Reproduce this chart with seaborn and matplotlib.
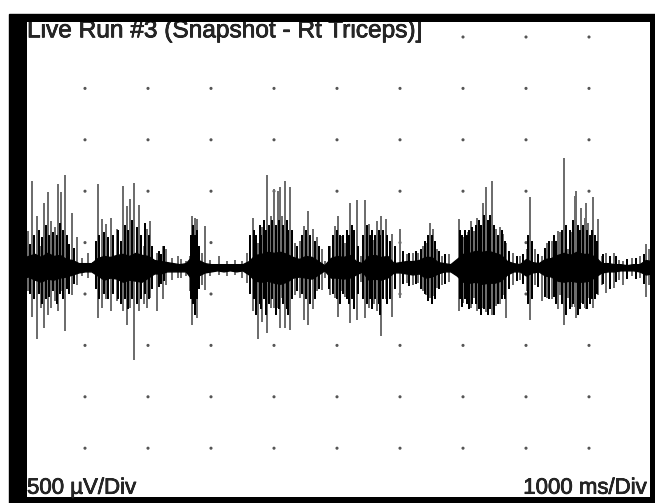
import matplotlib
matplotlib.use("Agg")
import matplotlib.pyplot as plt
import matplotlib.patheffects as pe
import numpy as np
import pandas as pd
import seaborn as sns
from matplotlib.patches import Rectangle

titulo = "Live Run #3 (Snapshot - Rt Triceps)]"
escala_y = "500 µV/Div"
escala_x = "1000 ms/Div"

# reticula de puntos: 1 division = 1 s (1000 ms) y 0.5 mV (500 µV)
div_t = [1, 2, 3, 4, 5, 6, 7, 8, 9]
div_mv = [-2.0, -1.5, -1.0, -0.5, 0.0, 0.5, 1.0, 1.5, 2.0]

# linea base de la señal respecto a la fila central de puntos (mV)
linea_base = -0.24

# picos altos de la señal EMG: instante (s), maximo y minimo (mV)
spike_t = [0.10, 0.154, 0.243, 0.297, 0.349, 0.408, 0.46, 0.524, 0.576, 0.619,
           0.683, 0.789, 0.878, 0.947, 1.05, 1.13, 1.20, 1.27, 1.34, 1.42,
           1.50, 1.60, 1.66, 1.71, 1.78, 1.86, 1.93, 1.98, 2.03,
           2.14, 2.24, 2.28, 2.38, 2.47, 2.53, 2.61, 2.67, 2.70, 2.75,
           2.78, 2.85, 2.90, 2.98, 3.12, 3.25, 3.38, 3.49, 3.57, 3.66,
           3.74, 3.81, 3.89, 3.95, 4.00,
           4.06, 4.10, 4.13, 4.17, 4.25, 4.33, 4.41, 4.47, 4.54, 4.62,
           4.68, 4.76, 4.81, 4.89, 4.97, 5.02, 5.07, 5.13, 5.21, 5.31,
           5.38, 5.44, 5.50, 5.58, 5.63, 5.70, 5.77, 5.88, 6.00,
           6.11, 6.21, 6.29, 6.37, 6.42, 6.47, 6.53, 6.58, 6.66, 6.78,
           6.85, 6.93, 7.00, 7.08, 7.12, 7.17, 7.23, 7.31, 7.37, 7.46,
           7.53, 7.59, 7.64, 7.69, 7.80, 7.90,
           8.01, 8.06, 8.14, 8.25, 8.34, 8.41, 8.50, 8.54, 8.60, 8.67,
           8.73, 8.78, 8.80, 8.87, 8.93, 8.95, 8.99, 9.07, 9.15, 9.20,
           9.27, 9.39, 9.47, 9.54, 9.68, 9.81, 9.90, 9.95]
spike_hi = [0.34, 0.83, 0.49, 0.20, 0.62, 0.72, 0.44, 0.38, 0.80, 0.72,
            0.89, 0.52, 0.28, 0.08, 0.13, 0.04, 0.80, 0.46, 0.41, 0.47,
            0.36, 0.78, 0.59, 0.65, 0.81, 0.60, 0.20, 0.36, 0.44,
            0.13, 0.20, 0.17, 0.08, 0.10, 0.07, 0.05, 0.10, 0.49, 0.47,
            0.46, 0.13, 0.39, 0.06, 0.10, 0.05, 0.06, 0.05, 0.13, 0.47,
            0.23, 0.38, 0.89, 0.49, 0.75,
            0.73, 0.77, 0.49, 0.83, 0.77, 0.23, 0.25, 0.39, 0.54, 0.36,
            0.28, 0.17, 0.05, 0.20, 0.39, 0.49, 0.29, 0.23, 0.62, 0.64,
            0.10, 0.64, 0.41, 0.26, 0.44, 0.49, 0.46, 0.31, 0.36,
            0.12, 0.13, 0.13, 0.20, 0.23, 0.42, 0.36, 0.17, 0.10, 0.12,
            0.04, 0.46, 0.28, 0.33, 0.44, 0.34, 0.47, 0.62, 0.77, 0.83,
            0.36, 0.38, 0.31, 0.23, 0.13, 0.10,
            0.17, 0.67, 0.17, 0.10, 0.23, 0.25, 0.34, 0.33, 1.05, 0.17,
            0.33, 0.68, 0.73, 0.57, 0.47, 0.62, 0.42, 0.67, 0.46, 0.10,
            0.13, 0.13, 0.06, 0.05, 0.08, 0.10, 0.22, 0.17]
spike_lo = [-0.22, -0.47, -0.69, -0.39, -0.58, -0.45, -0.39, -0.32, -0.42, -0.22,
            -0.61, -0.26, -0.16, -0.08, -0.09, -0.05, -0.48, -0.39, -0.30, -0.42,
            -0.32, -0.42, -0.55, -0.39, -0.89, -0.42, -0.35, -0.39, -0.29,
            -0.42, -0.30, -0.16, -0.11, -0.09, -0.09, -0.08, -0.22, -0.55, -0.39,
            -0.48, -0.16, -0.21, -0.08, -0.07, -0.08, -0.07, -0.09, -0.14, -0.42,
            -0.69, -0.52, -0.63, -0.39, -0.39,
            -0.39, -0.58, -0.29, -0.58, -0.60, -0.26, -0.29, -0.50, -0.55, -0.40,
            -0.22, -0.21, -0.09, -0.26, -0.29, -0.47, -0.22, -0.28, -0.53, -0.50,
            -0.13, -0.48, -0.39, -0.35, -0.42, -0.66, -0.30, -0.47, -0.29,
            -0.14, -0.16, -0.14, -0.22, -0.26, -0.29, -0.27, -0.19, -0.16, -0.13,
            -0.06, -0.42, -0.34, -0.22, -0.39, -0.29, -0.42, -0.39, -0.43, -0.45,
            -0.37, -0.35, -0.26, -0.48, -0.16, -0.11,
            -0.22, -0.50, -0.16, -0.32, -0.29, -0.30, -0.40, -0.26, -0.55, -0.29,
            -0.38, -0.38, -0.48, -0.34, -0.39, -0.40, -0.29, -0.39, -0.26, -0.16,
            -0.24, -0.19, -0.11, -0.16, -0.08, -0.09, -0.28, -0.16]

# picos medios dentro de cada rafaga: instante (s), maximo y minimo (mV)
medio_t = [0.07, 0.13, 0.19, 0.27, 0.32, 0.38, 0.43, 0.49, 0.55, 0.60, 0.65,
           0.72, 0.75, 0.83,
           1.17, 1.23, 1.30, 1.37, 1.45, 1.53, 1.57, 1.63, 1.69, 1.74, 1.82,
           1.89, 1.95, 2.01, 2.07, 2.18, 2.21, 2.26,
           2.69, 2.72, 2.74, 2.77, 2.81,
           3.62, 3.69, 3.71, 3.77, 3.79, 3.84, 3.87, 3.92, 3.97, 4.03, 4.08,
           4.15, 4.20, 4.22, 4.28, 4.37, 4.44, 4.50, 4.57, 4.65, 4.72,
           4.87, 4.93, 5.00, 5.04, 5.10, 5.16, 5.19, 5.24, 5.27, 5.33,
           5.42, 5.47, 5.53, 5.56, 5.61, 5.66, 5.68, 5.73, 5.80, 5.84, 5.92,
           6.05, 6.15, 6.25, 6.33, 6.40, 6.45, 6.50, 6.55, 6.62, 6.72,
           6.95, 6.98, 7.03, 7.06, 7.10, 7.14, 7.20, 7.26, 7.28, 7.34, 7.40,
           7.43, 7.49, 7.56, 7.62, 7.67, 7.73, 7.85, 7.95,
           8.03, 8.09, 8.19, 8.30, 8.37, 8.44, 8.47, 8.57, 8.63, 8.70, 8.75,
           8.83, 8.85, 8.90, 8.97, 9.02, 9.05, 9.10, 9.13, 9.23, 9.33, 9.43,
           9.60, 9.75, 9.87]
medio_hi = [0.25, 0.22, 0.30, 0.35, 0.28, 0.40, 0.30, 0.33, 0.30, 0.42, 0.35,
            0.30, 0.22, 0.18,
            0.25, 0.30, 0.33, 0.28, 0.30, 0.35, 0.25, 0.40, 0.35, 0.45, 0.38,
            0.30, 0.42, 0.30, 0.20, 0.15, 0.12, 0.20,
            0.30, 0.40, 0.30, 0.35, 0.20,
            0.30, 0.35, 0.30, 0.40, 0.30, 0.45, 0.35, 0.40, 0.45, 0.40, 0.45,
            0.40, 0.45, 0.35, 0.35, 0.20, 0.30, 0.35, 0.30, 0.25, 0.20,
            0.20, 0.30, 0.35, 0.30, 0.30, 0.35, 0.30, 0.40, 0.35, 0.20,
            0.30, 0.40, 0.30, 0.35, 0.30, 0.35, 0.30, 0.35, 0.30, 0.25, 0.20,
            0.15, 0.13, 0.15, 0.17, 0.25, 0.30, 0.30, 0.25, 0.15, 0.12,
            0.35, 0.30, 0.35, 0.30, 0.35, 0.38, 0.40, 0.45, 0.40, 0.50, 0.45,
            0.50, 0.40, 0.30, 0.35, 0.25, 0.15, 0.10, 0.12,
            0.30, 0.25, 0.12, 0.18, 0.25, 0.30, 0.25, 0.35, 0.40, 0.35, 0.45,
            0.40, 0.35, 0.40, 0.35, 0.30, 0.35, 0.30, 0.25, 0.12, 0.10, 0.10,
            0.07, 0.08, 0.12]
medio_lo = [-0.20, -0.25, -0.30, -0.25, -0.35, -0.30, -0.28, -0.22, -0.35, -0.25, -0.30,
            -0.20, -0.25, -0.15,
            -0.20, -0.30, -0.25, -0.30, -0.25, -0.30, -0.35, -0.30, -0.40, -0.30, -0.35,
            -0.30, -0.25, -0.30, -0.20, -0.18, -0.15, -0.12,
            -0.30, -0.35, -0.45, -0.30, -0.20,
            -0.25, -0.30, -0.45, -0.35, -0.40, -0.30, -0.45, -0.35, -0.30, -0.45, -0.40,
            -0.35, -0.40, -0.45, -0.30, -0.22, -0.25, -0.30, -0.35, -0.30, -0.20,
            -0.20, -0.25, -0.30, -0.35, -0.25, -0.30, -0.35, -0.30, -0.40, -0.25,
            -0.30, -0.35, -0.30, -0.40, -0.30, -0.35, -0.45, -0.30, -0.35, -0.30, -0.20,
            -0.15, -0.17, -0.15, -0.20, -0.25, -0.32, -0.35, -0.30, -0.20, -0.15,
            -0.30, -0.38, -0.30, -0.35, -0.40, -0.35, -0.35, -0.40, -0.45, -0.40, -0.45,
            -0.40, -0.45, -0.35, -0.30, -0.30, -0.20, -0.12, -0.15,
            -0.35, -0.30, -0.18, -0.28, -0.30, -0.28, -0.35, -0.35, -0.45, -0.40, -0.35,
            -0.45, -0.40, -0.35, -0.40, -0.35, -0.30, -0.30, -0.25, -0.15, -0.20, -0.13,
            -0.10, -0.10, -0.15]

# nucleo denso de actividad cada 0.1 s: semiamplitud superior e inferior (mV)
nucleo_t = [0.0, 0.1, 0.2, 0.3, 0.4, 0.5, 0.6, 0.7, 0.8, 0.9,
            1.0, 1.1, 1.2, 1.3, 1.4, 1.5, 1.6, 1.7, 1.8, 1.9,
            2.0, 2.1, 2.2, 2.3, 2.4, 2.5, 2.6, 2.7, 2.8, 2.9,
            3.0, 3.1, 3.2, 3.3, 3.4, 3.5, 3.6, 3.7, 3.8, 3.9,
            4.0, 4.1, 4.2, 4.3, 4.4, 4.5, 4.6, 4.7, 4.8, 4.9,
            5.0, 5.1, 5.2, 5.3, 5.4, 5.5, 5.6, 5.7, 5.8, 5.9,
            6.0, 6.1, 6.2, 6.3, 6.4, 6.5, 6.6, 6.7, 6.8, 6.9,
            7.0, 7.1, 7.2, 7.3, 7.4, 7.5, 7.6, 7.7, 7.8, 7.9,
            8.0, 8.1, 8.2, 8.3, 8.4, 8.5, 8.6, 8.7, 8.8, 8.9,
            9.0, 9.1, 9.2, 9.3, 9.4, 9.5, 9.6, 9.7, 9.8, 9.9, 10.0]
nucleo_hi = [0.09, 0.11, 0.13, 0.10, 0.14, 0.11, 0.12, 0.08, 0.07, 0.04,
             0.04, 0.04, 0.09, 0.11, 0.10, 0.12, 0.13, 0.11, 0.14, 0.12,
             0.11, 0.07, 0.06, 0.05, 0.04, 0.03, 0.04, 0.11, 0.07, 0.04,
             0.03, 0.03, 0.03, 0.03, 0.03, 0.03, 0.06, 0.12, 0.13, 0.15,
             0.14, 0.15, 0.13, 0.10, 0.08, 0.11, 0.10, 0.06, 0.02, 0.09,
             0.11, 0.10, 0.12, 0.06, 0.04, 0.11, 0.12, 0.10, 0.11, 0.04,
             0.05, 0.06, 0.06, 0.07, 0.10, 0.10, 0.05, 0.04, 0.03, 0.08,
             0.13, 0.14, 0.16, 0.15, 0.16, 0.14, 0.12, 0.06, 0.04, 0.03,
             0.08, 0.05, 0.04, 0.08, 0.09, 0.12, 0.14, 0.12, 0.15, 0.13,
             0.13, 0.10, 0.04, 0.04, 0.03, 0.03, 0.02, 0.03, 0.03, 0.07, 0.06]
nucleo_lo = [0.10, 0.09, 0.12, 0.14, 0.11, 0.12, 0.10, 0.09, 0.07, 0.05,
             0.04, 0.04, 0.08, 0.12, 0.10, 0.11, 0.14, 0.12, 0.13, 0.14,
             0.10, 0.06, 0.06, 0.04, 0.04, 0.04, 0.04, 0.12, 0.08, 0.05,
             0.04, 0.03, 0.04, 0.03, 0.04, 0.03, 0.07, 0.13, 0.14, 0.13,
             0.15, 0.16, 0.14, 0.10, 0.09, 0.10, 0.11, 0.07, 0.03, 0.10,
             0.10, 0.11, 0.10, 0.07, 0.04, 0.12, 0.11, 0.12, 0.10, 0.05,
             0.05, 0.06, 0.07, 0.06, 0.10, 0.09, 0.06, 0.04, 0.04, 0.08,
             0.14, 0.15, 0.14, 0.16, 0.15, 0.15, 0.13, 0.07, 0.04, 0.04,
             0.08, 0.05, 0.04, 0.08, 0.09, 0.13, 0.14, 0.13, 0.14, 0.14,
             0.13, 0.09, 0.05, 0.04, 0.04, 0.03, 0.03, 0.03, 0.04, 0.07, 0.06]


def traza_picos(t, maximo, minimo):
    """Recorrido del trazo: base -> maximo -> minimo -> base en cada pico"""
    t = np.array(t)
    cero = np.zeros_like(t)
    valores = np.column_stack([cero, np.array(maximo), np.array(minimo), cero]).ravel()
    return pd.DataFrame({"t": np.repeat(t, 4), "mV": linea_base + valores})


sns.set_style("white")
plt.rcParams["font.family"] = ["Liberation Sans", "DejaVu Sans"]

fig = plt.figure(figsize=(6.55, 5.03), dpi=100)
# marco negro del osciloscopio
fig.patches.append(Rectangle((9 / 655, 0), 646 / 655, 489 / 503,
                             transform=fig.transFigure, color="black", zorder=-1))
ax = fig.add_axes([27 / 655, 6 / 503, 623 / 655, 475 / 503])
ax.set_facecolor("white")

# puntos de la reticula
gt, gv = np.meshgrid(div_t, div_mv)
sns.scatterplot(x=gt.ravel(), y=gv.ravel(), s=5, color="#555555",
                edgecolor="none", ax=ax, zorder=1, legend=False)

# picos altos (grises) y medios (negros)
sns.lineplot(data=traza_picos(spike_t, spike_hi, spike_lo), x="t", y="mV",
             sort=False, estimator=None, color="#6e6e6e", lw=1.4, ax=ax, zorder=2)
sns.lineplot(data=traza_picos(medio_t, medio_hi, medio_lo), x="t", y="mV",
             sort=False, estimator=None, color="black", lw=1.2, ax=ax, zorder=3)

# nucleo de la señal
ax.fill_between(nucleo_t, linea_base - np.array(nucleo_lo), linea_base + np.array(nucleo_hi),
                color="black", lw=1.0, ec="black", zorder=4)

ax.set_xlim(5 / 63, 628 / 63)
ax.set_ylim(-(497 - 242.6) / 102.8, (242.6 - 22) / 102.8)
ax.set_xticks([])
ax.set_yticks([])
ax.set_xlabel("")
ax.set_ylabel("")
sns.despine(ax=ax, left=True, bottom=True)

trazo = [pe.withStroke(linewidth=0.5, foreground="black")]
ax.text(0.0, (497 - 37.3) / 475, titulo, transform=ax.transAxes, fontsize=17.6,
        ha="left", va="baseline", clip_on=True, zorder=5, path_effects=trazo,
        bbox=dict(fc="white", ec="none", pad=0.5))
ax.text(0.0, 3.3 / 475, escala_y, transform=ax.transAxes, fontsize=16,
        ha="left", va="baseline", zorder=5, path_effects=trazo)
ax.text(620 / 623, 3.3 / 475, escala_x, transform=ax.transAxes, fontsize=16,
        ha="right", va="baseline", zorder=5, path_effects=trazo)

fig.savefig("out.png", dpi=100, facecolor="white")
